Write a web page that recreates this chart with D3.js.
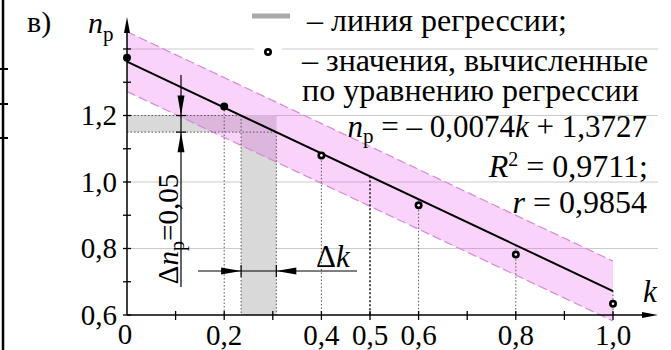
<!DOCTYPE html>
<html>
<head>
<meta charset="utf-8">
<script src="https://cdnjs.cloudflare.com/ajax/libs/d3/7.8.5/d3.min.js"></script>
</head>
<body style="margin:0">
<svg></svg>
<script>
var width = 671;
var height = 350;

// data
var kValues = [0, 0.2, 0.4, 0.6, 0.8, 1.0];
var npValues = [1.374, 1.227, 1.080, 0.930, 0.782, 0.634];
var hollowPoint = [false, false, true, true, true, true];
var fitEnds = [1.362, 0.672];      // drawn regression line at k = 0 and k = 1
var bandHalf = 0.09;               // half width of the pink band
var gridValues = [1.4, 1.2, 1.0, 0.8];
var yTickValues = [0.6, 0.7, 0.8, 0.9, 1.0, 1.1, 1.2, 1.3, 1.4];
var yLabelValues = [0.6, 0.8, 1.0, 1.2];
var xTickValues = [0.1, 0.2, 0.3, 0.4, 0.5, 0.6, 0.7, 0.8, 0.9, 1.0];
var xLabelValues = [0, 0.2, 0.4, 0.5, 0.6, 0.8, 1.0];
var npLevels = [1.2, 1.15];        // Δnp = 0,05
var markK = 0.5;
var legendLines = ['– линия регрессии;', '– значения, вычисленные', 'по уравнению регрессии'];

var serif = '"Liberation Serif"';

var svg = d3.select('svg')
    .attr('width', width)
    .attr('height', height)
    .style('font-family', serif);

var xScale = d3.scaleLinear().domain([0, 1]).range([127, 613]);
var yScale = d3.scaleLinear().domain([0.6, 1.4]).range([315, 49]);

var fmt = function(v) { return d3.format('.1f')(v).replace('.', ','); };
var fit = function(k) { return fitEnds[0] + (fitEnds[1] - fitEnds[0]) * k; };
var fitInv = function(v) { return (v - fitEnds[0]) / (fitEnds[1] - fitEnds[0]); };

// text helper, serif everywhere
function label(parent, size) {
  return parent.append('text')
      .style('font-family', serif)
      .style('font-size', size + 'px');
}

var x0 = xScale(0), xEnd = 658, yAxis = yScale(0.6);

// table border remains on the left
svg.append('line').attr('x1', 3).attr('x2', 3).attr('y1', 0).attr('y2', height)
    .attr('stroke', '#000').attr('stroke-width', 2.5);
[69, 104, 138].forEach(function(y) {
  svg.append('line').attr('x1', 0).attr('x2', 8).attr('y1', y).attr('y2', y)
      .attr('stroke', '#000').attr('stroke-width', 2);
});

// grid
svg.append('g').selectAll('line').data(gridValues).enter().append('line')
    .attr('x1', x0).attr('x2', xEnd)
    .attr('y1', d => yScale(d)).attr('y2', d => yScale(d))
    .attr('stroke', '#cbcbcb').attr('stroke-width', 1);

// gray Δ regions
var k1 = fitInv(npLevels[0]);
var k2 = fitInv(npLevels[1]);
svg.append('rect')
    .attr('x', x0).attr('y', yScale(npLevels[0]))
    .attr('width', xScale(k2) - x0).attr('height', yScale(npLevels[1]) - yScale(npLevels[0]))
    .attr('fill', '#d9d9d9');
svg.append('rect')
    .attr('x', xScale(k1)).attr('y', yScale(npLevels[0]))
    .attr('width', xScale(k2) - xScale(k1)).attr('height', yAxis - yScale(npLevels[0]))
    .attr('fill', '#d9d9d9');

// pink confidence band
var bandArea = d3.area()
    .x(d => xScale(d))
    .y0(d => yScale(fit(d) - bandHalf))
    .y1(d => yScale(fit(d) + bandHalf));
svg.append('path').datum([0, 1]).attr('d', bandArea)
    .attr('fill', 'rgb(235, 70, 235)').attr('fill-opacity', 0.24);
[bandHalf, -bandHalf].forEach(function(off) {
  svg.append('line')
      .attr('x1', xScale(0)).attr('y1', yScale(fit(0) + off))
      .attr('x2', xScale(1)).attr('y2', yScale(fit(1) + off))
      .attr('stroke', '#d68ad6').attr('stroke-width', 1.2)
      .attr('stroke-dasharray', '9,4');
});

// dotted guide lines of the Δ regions
var dotted = svg.append('g').attr('stroke', '#555').attr('stroke-width', 1)
    .attr('stroke-dasharray', '1.5,2');
dotted.append('line').attr('x1', x0).attr('x2', xScale(k1))
    .attr('y1', yScale(npLevels[0])).attr('y2', yScale(npLevels[0]));
dotted.append('line').attr('x1', x0).attr('x2', xScale(k2))
    .attr('y1', yScale(npLevels[1])).attr('y2', yScale(npLevels[1]));
dotted.append('line').attr('x1', xScale(k1)).attr('x2', xScale(k1))
    .attr('y1', yScale(npLevels[0])).attr('y2', yAxis);
dotted.append('line').attr('x1', xScale(k2)).attr('x2', xScale(k2))
    .attr('y1', yScale(npLevels[1])).attr('y2', yAxis);

// drops from the points
dotted.selectAll('.drop').data(kValues.slice(1)).enter().append('line')
    .attr('x1', d => xScale(d)).attr('x2', d => xScale(d))
    .attr('y1', (d, i) => yScale(Math.max(npValues[i + 1], fit(d))))
    .attr('y2', yAxis);

svg.append('line')
    .attr('x1', xScale(markK)).attr('x2', xScale(markK))
    .attr('y1', yScale(fit(markK))).attr('y2', yAxis)
    .attr('stroke', '#222').attr('stroke-width', 1.6).attr('stroke-dasharray', '2,2');

// regression line
svg.append('line')
    .attr('x1', xScale(0)).attr('y1', yScale(fit(0)))
    .attr('x2', xScale(1)).attr('y2', yScale(fit(1)))
    .attr('stroke', '#000').attr('stroke-width', 2);

// points
var pts = svg.append('g').selectAll('g').data(kValues).enter().append('g')
    .attr('transform', (d, i) => 'translate(' + xScale(d) + ',' + yScale(npValues[i]) + ')');
pts.append('circle').attr('r', 4).attr('fill', '#000');
pts.filter((d, i) => hollowPoint[i]).append('circle').attr('r', 1.3).attr('fill', '#fff');

// axes
svg.append('line').attr('x1', x0).attr('x2', xEnd - 8).attr('y1', yAxis).attr('y2', yAxis)
    .attr('stroke', '#000').attr('stroke-width', 1.5);
svg.append('path').attr('d', 'M' + xEnd + ',' + yAxis + 'l-16,-3l0,6z').attr('fill', '#000');
svg.append('line').attr('x1', x0).attr('x2', x0).attr('y1', yAxis).attr('y2', 25)
    .attr('stroke', '#000').attr('stroke-width', 1.5);
svg.append('path').attr('d', 'M' + x0 + ',17l-3,16l6,0z').attr('fill', '#000');

svg.append('g').selectAll('line').data(yTickValues).enter().append('line')
    .attr('x1', x0 - 4).attr('x2', x0 + 4)
    .attr('y1', d => yScale(d)).attr('y2', d => yScale(d))
    .attr('stroke', '#000').attr('stroke-width', 1.3);
svg.append('g').selectAll('line').data(xTickValues).enter().append('line')
    .attr('x1', d => xScale(d)).attr('x2', d => xScale(d))
    .attr('y1', yAxis - 4).attr('y2', yAxis + 5)
    .attr('stroke', '#000').attr('stroke-width', 1.3);

yLabelValues.forEach(function(v) {
  label(svg, 29).attr('x', 117).attr('y', yScale(v)).attr('dy', '0.33em')
      .attr('text-anchor', 'end').text(fmt(v));
});
xLabelValues.forEach(function(v) {
  label(svg, 29).attr('x', v === 0 ? xScale(v) - 2 : xScale(v)).attr('y', v === 0 ? 344 : 345)
      .attr('text-anchor', 'middle').text(v === 0 ? '0' : fmt(v));
});

// axis names
var npLab = label(svg, 30).attr('x', 88).attr('y', 33);
npLab.append('tspan').style('font-style', 'italic').text('n');
npLab.append('tspan').attr('dy', 8).style('font-size', '21px').text('р');
label(svg, 31).attr('x', 643).attr('y', 302).style('font-style', 'italic').text('k');
label(svg, 30).attr('x', 27).attr('y', 32).text('в)');

// vertical dimension Δnp
var vx = 181;
svg.append('line').attr('x1', vx).attr('x2', vx).attr('y1', 75).attr('y2', 287)
    .attr('stroke', '#000').attr('stroke-width', 1.2);
npLevels.forEach(function(v) {
  svg.append('line').attr('x1', vx - 5).attr('x2', vx + 5)
      .attr('y1', yScale(v)).attr('y2', yScale(v))
      .attr('stroke', '#000').attr('stroke-width', 1.2);
});
svg.append('path').attr('d', 'M' + vx + ',' + yScale(npLevels[0]) + 'l-3.5,-20l7,0z').attr('fill', '#000');
svg.append('path').attr('d', 'M' + vx + ',' + yScale(npLevels[1]) + 'l-3.5,20l7,0z').attr('fill', '#000');
var dnp = label(svg, 29).attr('transform', 'translate(178,229) rotate(-90)')
    .attr('text-anchor', 'middle');
dnp.append('tspan').text('Δ');
dnp.append('tspan').style('font-style', 'italic').text('n');
dnp.append('tspan').attr('dy', 6).style('font-size', '20px').text('р');
dnp.append('tspan').attr('dy', -6).text('=0,05');

// horizontal dimension Δk
var hy = 271;
svg.append('line').attr('x1', 198).attr('x2', 357).attr('y1', hy).attr('y2', hy)
    .attr('stroke', '#000').attr('stroke-width', 1.2);
[k1, k2].forEach(function(k) {
  svg.append('line').attr('x1', xScale(k)).attr('x2', xScale(k))
      .attr('y1', hy - 6).attr('y2', hy + 6)
      .attr('stroke', '#000').attr('stroke-width', 1.2);
});
svg.append('path').attr('d', 'M' + xScale(k1) + ',' + hy + 'l-20,-3.5l0,7z').attr('fill', '#000');
svg.append('path').attr('d', 'M' + xScale(k2) + ',' + hy + 'l20,-3.5l0,7z').attr('fill', '#000');
var dk = label(svg, 31).attr('x', 316).attr('y', 267);
dk.append('tspan').text('Δ');
dk.append('tspan').style('font-style', 'italic').text('k');

// legend
svg.append('line').attr('x1', 252).attr('x2', 290).attr('y1', 16).attr('y2', 16)
    .attr('stroke', '#a9a9a9').attr('stroke-width', 5);
svg.append('rect').attr('x', 254).attr('y', 44).attr('width', 28).attr('height', 12).attr('fill', '#fff');
svg.append('circle').attr('cx', 268).attr('cy', 52).attr('r', 4).attr('fill', '#000');
svg.append('circle').attr('cx', 268).attr('cy', 52).attr('r', 1.3).attr('fill', '#fff');

legendLines.forEach(function(t, i) {
  label(svg, 32).attr('x', i === 0 ? 307 : 302).attr('y', [31, 71, 101][i]).text(t);
});

// equation block, right aligned
var eq = label(svg, 31).attr('x', 647).attr('y', 137).attr('text-anchor', 'end');
eq.append('tspan').style('font-style', 'italic').text('n');
eq.append('tspan').attr('dy', 6).style('font-size', '21px').text('р');
eq.append('tspan').attr('dy', -6).text(' = – 0,0074');
eq.append('tspan').style('font-style', 'italic').text('k');
eq.append('tspan').text(' + 1,3727');

var r2 = label(svg, 32).attr('x', 648).attr('y', 177).attr('text-anchor', 'end');
r2.append('tspan').style('font-style', 'italic').text('R');
r2.append('tspan').attr('dy', -11).style('font-size', '20px').text('2');
r2.append('tspan').attr('dy', 11).text(' = 0,9711;');

var rr = label(svg, 32).attr('x', 647).attr('y', 213).attr('text-anchor', 'end');
rr.append('tspan').style('font-style', 'italic').text('r');
rr.append('tspan').text(' = 0,9854');
</script>
</body>
</html>
